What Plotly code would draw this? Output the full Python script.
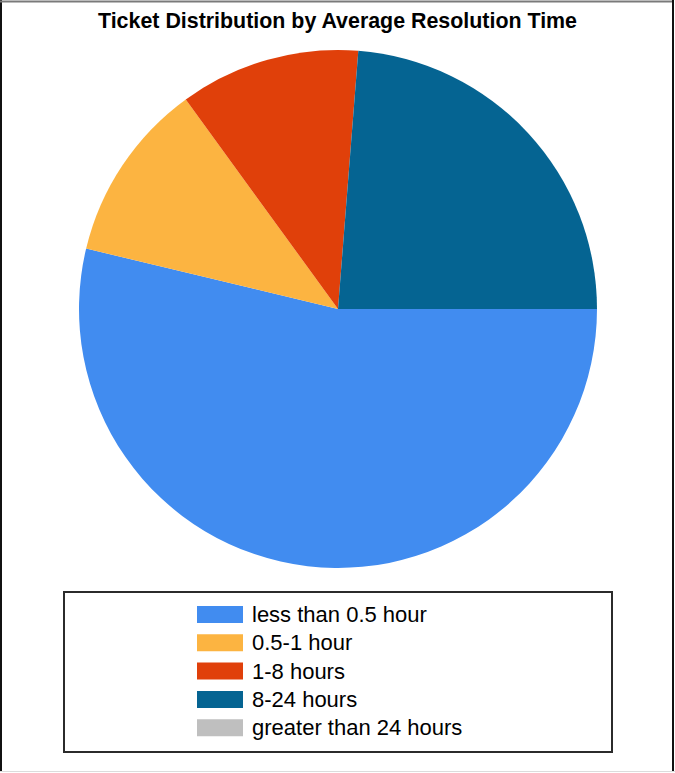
import plotly.graph_objects as go

# ---- data ----
labels = ["less than 0.5 hour", "0.5-1 hour", "1-8 hours", "8-24 hours", "greater than 24 hours"]
values = [43, 9, 9, 19, 0]
colors = ["#418CF0", "#FCB441", "#E0400A", "#056492", "#BFBFBF"]
title_text = "Ticket Distribution by Average Resolution Time"

W, H = 675, 773


def px(x):
    return x / W


def py(y):
    return 1 - y / H


fig = go.Figure()
fig.add_trace(go.Pie(
    labels=labels,
    values=values,
    marker=dict(colors=colors, line=dict(width=0)),
    sort=False,
    direction="clockwise",
    rotation=90,
    textinfo="none",
    hoverinfo="label+value+percent",
    showlegend=False,
    domain=dict(x=[px(79), px(597)], y=[py(568), py(50)]),
))

shapes = []
annotations = []

# outer frame
shapes.append(dict(type="line", xref="paper", yref="paper", x0=px(1), x1=px(1), y0=py(0), y1=py(772),
                   line=dict(color="#111111", width=2)))
shapes.append(dict(type="line", xref="paper", yref="paper", x0=px(0), x1=px(674), y0=py(1.5), y1=py(1.5),
                   line=dict(color="#7a7a7a", width=2)))
shapes.append(dict(type="line", xref="paper", yref="paper", x0=px(673), x1=px(673), y0=py(0), y1=py(772),
                   line=dict(color="#111111", width=2)))
shapes.append(dict(type="line", xref="paper", yref="paper", x0=px(0), x1=px(675), y0=py(771.5), y1=py(771.5),
                   line=dict(color="#dcdcdc", width=1)))

# legend box
shapes.append(dict(type="rect", xref="paper", yref="paper", x0=px(64), x1=px(612), y0=py(592), y1=py(752),
                   line=dict(color="#2b2b2b", width=2), fillcolor="rgba(0,0,0,0)"))

row0, step = 614.5, 28.3
for i, (lab, col) in enumerate(zip(labels, colors)):
    cy = row0 + i * step
    shapes.append(dict(type="rect", xref="paper", yref="paper", x0=px(197), x1=px(243),
                       y0=py(cy + 8.5), y1=py(cy - 8.5), line=dict(width=0), fillcolor=col))
    annotations.append(dict(xref="paper", yref="paper", x=px(250), y=py(cy), xanchor="left", yanchor="middle",
                            text=lab, showarrow=False,
                            font=dict(family="Liberation Sans, Arial, sans-serif", size=22, color="#000000")))

annotations.append(dict(xref="paper", yref="paper", x=px(337.5), y=py(21), xanchor="center", yanchor="middle",
                        text="<b>" + title_text + "</b>", showarrow=False,
                        font=dict(family="Liberation Sans, Arial, sans-serif", size=21.4, color="#000000")))

fig.update_layout(
    width=W, height=H,
    margin=dict(l=0, r=0, t=0, b=0),
    paper_bgcolor="white",
    plot_bgcolor="white",
    shapes=shapes,
    annotations=annotations,
    showlegend=False,
)

fig.write_html("out.html")
